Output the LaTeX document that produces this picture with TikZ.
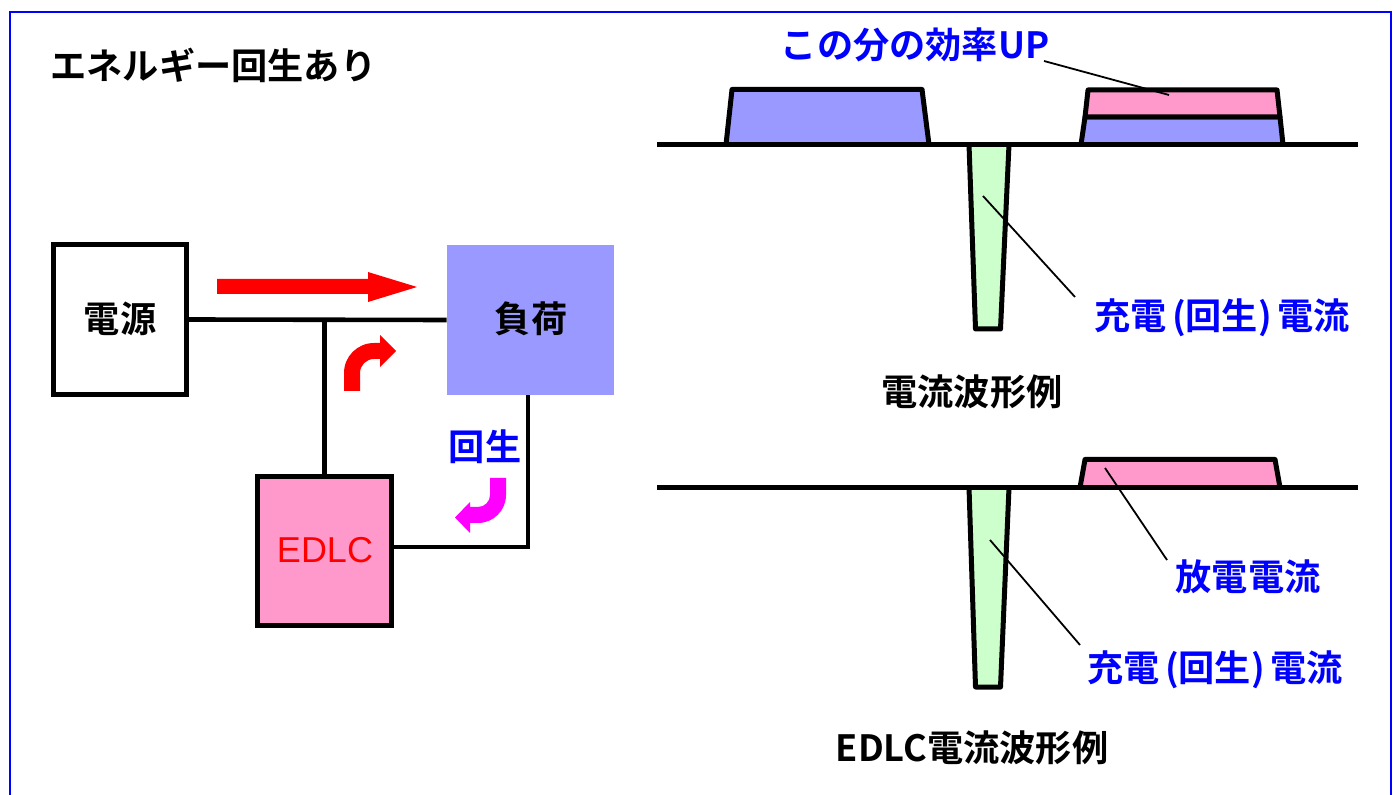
\documentclass[tikz,border=0pt]{standalone}
\usepackage{fontspec}
\setmainfont{Noto Sans CJK JP}[BoldFont={Noto Sans CJK JP Bold}]
\newfontfamily\arialfont{Liberation Sans}
\definecolor{lblue}{HTML}{9999FF}
\definecolor{lpink}{HTML}{FF99CC}
\definecolor{lgreen}{HTML}{CCFFCC}
\definecolor{pblue}{HTML}{0000FF}
\definecolor{pred}{HTML}{FF0000}
\definecolor{pmag}{HTML}{FF00FF}
\begin{document}
\begin{tikzpicture}[x=0.5pt,y=-0.5pt,
  boxst/.style={draw=black,line width=2.5pt,inner sep=0pt,outer sep=0pt},
  wire/.style={draw=black,line width=2.3pt},
  wave/.style={draw=black,line width=2.5pt,line join=round},
  base/.style={draw=black,line width=2.5pt},
  leader/.style={draw=black,line width=0.9pt},
  lbl/.style={font=\bfseries\fontsize{18.1}{21}\selectfont,inner sep=0pt},
  bl/.style={lbl,text=pblue}]
\useasboundingbox (0,0) rectangle (1396,795);
\fill[white] (0,0) rectangle (1396,795);
% outer blue frame
\draw[pblue,line width=1.1pt] (10,800) -- (10,12) -- (1391,12) -- (1391,800);
% title
\node[lbl,anchor=west] (title) at (50,65) {エネルギー回生あり};
% circuit boxes
\node[boxst,fill=white,minimum width=66.75pt,minimum height=75pt] (dengen) at (120,319.5) {};
\node[lbl] (dengenT) at (120,319) {電源};
\node[fill=lblue,inner sep=0pt,minimum width=83.5pt,minimum height=75pt] (fuka) at (530.5,320) {};
\node[lbl] (fukaT) at (531,319) {負荷};
\node[boxst,fill=lpink,minimum width=67pt,minimum height=74.5pt] (edlc) at (324.5,551) {};
\node[font=\arialfont\fontsize{18}{21}\selectfont,text=pred,inner sep=0pt] (edlcT) at (325,550) {EDLC};
% wires
\coordinate (c2) at (528,547);
\draw[wire] (dengen.east) -- (fuka.west);
\draw[wire] (edlc.north) -- (edlc.north |- dengen.east);
\draw[wire] (fuka.south -| c2) -- (c2) -- (c2 -| edlc.east);
% straight red arrow
\fill[pred] (217,279) -- (368,279) -- (368,272) -- (417,287) -- (368,302) -- (368,294) -- (217,294) -- cycle;
% curved red arrow
\fill[pred] (344,391) -- (344,373) arc[start angle=180,end angle=270,radius=30]
  -- (380,343) -- (380,335) -- (396,351) -- (380,367) -- (380,359) -- (374,359)
  arc[start angle=270,end angle=180,radius=14] -- (360,391) -- cycle;
% regen label
\node[bl] (kaisei) at (485,447) {回生};
% curved magenta arrow
\fill[pmag] (490,478) -- (506,478) -- (506,495) arc[start angle=0,end angle=90,radius=28]
  -- (470,523) -- (470,533) -- (455,517.5) -- (470,502) -- (470,507) -- (478,507)
  arc[start angle=90,end angle=0,radius=12] -- cycle;
% ===== top waveform =====
\draw[wave,fill=lblue] (726,144.5) -- (732,89.5) -- (922,89.5) -- (929,144.5);
\draw[wave,fill=lblue] (1081,144.5) -- (1085,117) -- (1280,117) -- (1283,144.5);
\draw[wave,fill=lpink] (1085,117) -- (1088,90) -- (1277,90) -- (1280,117) -- cycle;
\draw[wave,fill=lgreen] (969,144.5) -- (975.5,329) -- (1000.5,329) -- (1009,144.5);
\draw[base] (657,144.5) -- (1358,144.5);
\node[bl] (upT) at (915,45) {この分の効率UP};
\coordinate (up1) at (1044,61);
\coordinate (up2) at (1169,95);
\draw[leader] (up1) -- (up2);
\node[bl] (chg1) at (1222,318) {充電\hspace{0.15em}(回生)\hspace{0.15em}電流};
\coordinate (g1a) at (983,196);
\coordinate (g1b) at (1075,297);
\draw[leader] (g1a) -- (g1b);
\node[lbl] (cap1) at (972,392) {電流波形例};
% ===== bottom waveform =====
\draw[wave,fill=lpink] (1080,487.5) -- (1085,459.5) -- (1275,459.5) -- (1280,487.5);
\draw[wave,fill=lgreen] (969,487.5) -- (975.5,687) -- (1000.5,687) -- (1009,487.5);
\draw[base] (657,487.5) -- (1358,487.5);
\node[bl] (dis) at (1248,577) {放電電流};
\coordinate (p2a) at (1105,468);
\coordinate (p2b) at (1167,560);
\draw[leader] (p2a) -- (p2b);
\node[bl] (chg2) at (1215,670) {充電\hspace{0.15em}(回生)\hspace{0.15em}電流};
\coordinate (g2a) at (990,540);
\coordinate (g2b) at (1080,645);
\draw[leader] (g2a) -- (g2b);
\node[lbl] (cap2) at (972,748) {EDLC電流波形例};
\end{tikzpicture}
\end{document}
